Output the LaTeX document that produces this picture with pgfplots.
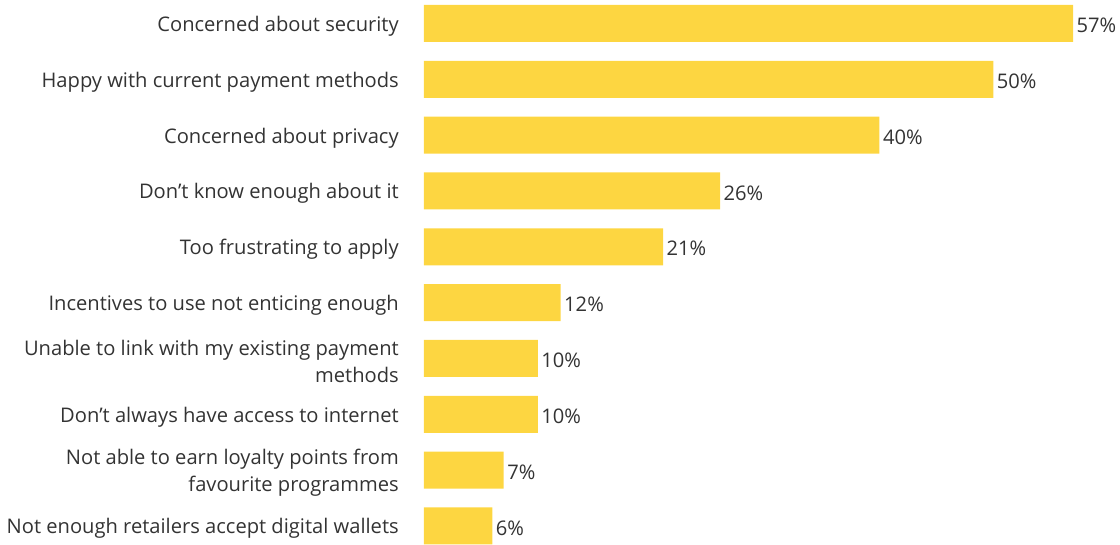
\documentclass[border=0pt]{standalone}
\usepackage{fontspec}
\setmainfont{Open Sans}
\usepackage{pgfplots}
\pgfplotsset{compat=1.18}
\definecolor{baryellow}{HTML}{FDD641}
\definecolor{txtgray}{HTML}{333333}
\begin{document}
\begin{tikzpicture}
\fontsize{15.1}{20.5}\selectfont
\begin{axis}[
    xbar,
    scale only axis,
    width=486.75pt,
    height=408.3pt,
    xmin=0, xmax=57,
    ymin=-0.42, ymax=9.33,
    y dir=reverse,
    axis y line*=left,
    hide x axis,
    axis line style={draw=none},
    clip=false,
    bar width=27.75pt,
    major tick length=0pt,
    /pgf/number format/assume math mode=true,
    ytick={0,...,9},
    yticklabels={
        Concerned about security,
        Happy with current payment methods,
        Concerned about privacy,
        Don’t know enough about it,
        Too frustrating to apply,
        Incentives to use not enticing enough,
        {Unable to link with my existing payment\\methods},
        Don’t always have access to internet,
        {Not able to earn loyalty points from\\favourite programmes},
        Not enough retailers accept digital wallets
    },
    yticklabel style={align=right, inner sep=0pt, xshift=-18.75pt, yshift=-2pt,
        font=\fontsize{15.1}{20.5}\selectfont, text=txtgray},
    nodes near coords={\pgfmathprintnumber{\pgfplotspointmeta}\%},
    nodes near coords style={anchor=west, inner sep=0pt, xshift=2.5pt, yshift=-1.5pt,
        font=\fontsize{15.1}{20.5}\selectfont, text=txtgray},
    point meta=x,
]
\addplot[fill=baryellow, draw=none] coordinates {
    (57,0) (50,1) (40,2) (26,3) (21,4) (12,5) (10,6) (10,7) (7,8) (6,9)
};
\end{axis}
\path ([xshift=-318pt]current axis.south west) rectangle ([xshift=35.25pt]current axis.north east);
\end{tikzpicture}
\end{document}
